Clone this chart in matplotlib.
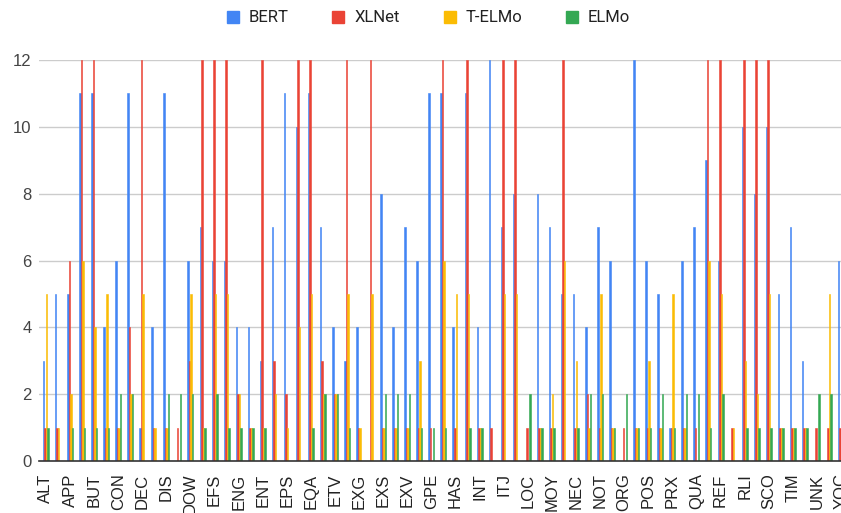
import numpy as np
import matplotlib
matplotlib.use("Agg")
import matplotlib.pyplot as plt
from matplotlib.lines import Line2D

# semantic tags (every other one is labelled on the axis)
tags = ["ALT", "AND", "APP", "APX", "BUT", "CLO", "CON", "COO", "DEC", "DEF",
        "DIS", "DOM", "DOW", "DST", "EFS", "EMP", "ENG", "ENS", "ENT", "EPG",
        "EPS", "EPT", "EQA", "EQU", "ETV", "EXC", "EXG", "EXN", "EXS", "EXT",
        "EXV", "FUT", "GPE", "GPO", "HAS", "IMP", "INT", "IST", "ITJ", "LES",
        "LOC", "MOR", "MOY", "NAT", "NEC", "NIL", "NOT", "NOW", "ORG", "PER",
        "POS", "PRO", "PRX", "PST", "QUA", "QUE", "REF", "REL", "RLI", "ROL",
        "SCO", "SUB", "TIM", "TOP", "UNK", "XCL", "YOC"]

bert  = [3, 5, 5, 11, 11, 4, 6, 11, 1, 4, 11, 0, 6, 7, 6, 6, 4, 4, 3, 7,
         11, 10, 11, 7, 4, 3, 4, 0, 8, 4, 7, 6, 11, 11, 4, 11, 4, 12, 7, 8,
         0, 8, 7, 5, 5, 4, 7, 6, 0, 12, 6, 5, 1, 6, 7, 9, 6, 0, 10, 8,
         10, 5, 7, 3, 0, 0, 6]
xlnet = [1, 1, 6, 12, 12, 1, 1, 4, 12, 1, 1, 1, 3, 12, 12, 12, 2, 1, 12, 3,
         2, 12, 12, 3, 2, 12, 1, 12, 1, 1, 1, 1, 1, 12, 1, 12, 1, 1, 12, 12,
         1, 1, 1, 12, 1, 2, 1, 1, 1, 1, 1, 1, 1, 1, 1, 12, 12, 1, 12, 12,
         12, 1, 1, 1, 1, 1, 1]
telmo = [5, 1, 2, 6, 4, 5, 1, 2, 5, 1, 1, 0, 5, 1, 5, 5, 2, 1, 1, 2,
         1, 4, 5, 2, 2, 5, 1, 5, 1, 1, 1, 3, 0, 6, 5, 5, 1, 0, 5, 5,
         0, 1, 2, 6, 3, 1, 5, 1, 0, 1, 3, 1, 5, 1, 0, 6, 5, 1, 3, 2,
         5, 1, 1, 1, 0, 5, 1]
elmo  = [1, 0, 1, 1, 1, 1, 2, 2, 0, 0, 2, 2, 2, 1, 2, 1, 1, 1, 1, 0,
         0, 0, 1, 2, 2, 1, 0, 0, 2, 2, 2, 1, 1, 1, 0, 1, 1, 0, 0, 0,
         2, 1, 1, 0, 1, 2, 2, 1, 2, 1, 1, 2, 1, 2, 2, 1, 2, 0, 1, 1,
         1, 1, 1, 1, 2, 2, 1]

series = [("BERT", bert, "#4285F4"), ("XLNet", xlnet, "#EA4335"),
          ("T-ELMo", telmo, "#FBBC04"), ("ELMo", elmo, "#34A853")]

plt.rcParams["font.family"] = ["Liberation Sans", "DejaVu Sans"]

fig = plt.figure(figsize=(8.41, 5.13), dpi=100)
ax = fig.add_axes([0.046, 0.1014, 0.954, 0.7816])

x = np.arange(len(tags))
w = 0.125
for i, (name, vals, col) in enumerate(series):
    ax.bar(x + (i - 1.5) * w, vals, width=w, color=col, edgecolor=col,
           linewidth=0.4, zorder=3)

ax.set_xlim(-0.6, 65.97)
ax.set_ylim(0, 12)
ax.set_yticks(range(0, 13, 2))
ax.set_xticks(x[::2])
ax.set_xticklabels(tags[::2], rotation=90, fontsize=12, color="#222222")
ax.tick_params(axis="x", length=0, pad=9)
ax.tick_params(axis="y", length=0, pad=5, labelsize=12, labelcolor="#444444")
ax.grid(axis="y", color="#cccccc", linewidth=1, zorder=0)
for s in ["top", "right", "left"]:
    ax.spines[s].set_visible(False)
ax.spines["bottom"].set_color("#333333")
ax.spines["bottom"].set_linewidth(1.2)
ax.spines["bottom"].set_zorder(4)

handles = [Line2D([], [], marker="s", linestyle="none", markersize=9,
                  markerfacecolor=c, markeredgecolor=c) for _, _, c in series]
fig.legend(handles, [n for n, _, _ in series], loc="center",
           bbox_to_anchor=(0.508, 1 - 18 / 513), ncol=4, frameon=False,
           handlelength=1.0, handletextpad=0.45, columnspacing=2.5,
           labelcolor="#222222",
           prop={"family": ["Roboto", "DejaVu Sans"], "size": 12})

fig.savefig("out.png", dpi=100)
